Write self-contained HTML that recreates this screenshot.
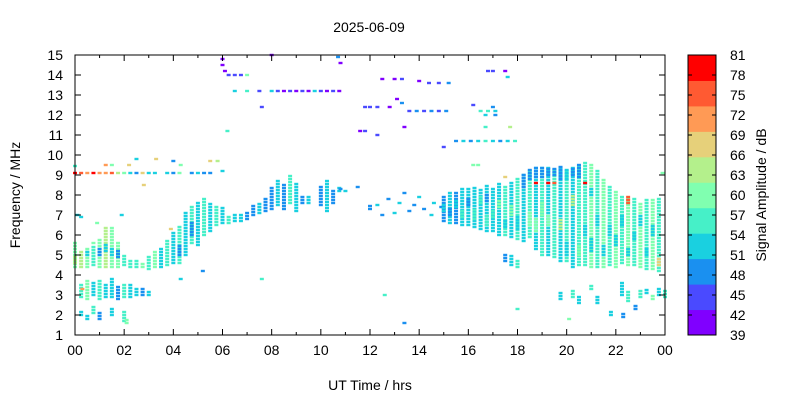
<!DOCTYPE html>
<html><head><meta charset="utf-8"><style>
body{margin:0;background:#fff;}
svg{display:block;font-family:"Liberation Sans",sans-serif;}
</style></head><body>
<svg id="c" width="800" height="400"></svg>
<script>
// data rows: [hour, fLow MHz, fHigh MHz, amplitude dB]
const morningLow=[[0,4.4,5.6,60],[0,4.6,5.0,64],[0.25,4.4,5.2,64],[0.25,6.9,7.0,52],[0.5,4.4,5.4,60],[0.5,5.0,5.2,52],[0.75,4.5,5.4,56],[0.75,5.6,5.7,60],[1,4.4,5.8,60],[1,5.0,5.4,48],[1.25,4.4,6.4,64],[1.25,5.2,5.6,52],[1.5,4.4,6.4,60],[1.5,5.0,5.4,52],[1.75,4.4,5.6,60],[1.75,4.9,5.3,48],[2,4.5,5.0,56],[2.25,4.4,4.7,56],
[0.25,2.9,3.6,56],[0.5,2.8,3.7,60],[0.75,3.0,3.7,52],[1,2.8,3.7,56],[1.25,2.9,3.5,52],[1.5,2.9,3.8,52],[1.75,2.8,3.5,48],[2,2.9,3.6,56],[2.25,2.9,3.5,52],[2.5,3.0,3.4,52],[2.75,3.0,3.4,48],[3,3.0,3.2,52],
[0.25,2.0,2.2,52],[0.5,1.8,2.0,52],[0.75,2.1,2.5,56],[1,1.8,2.1,48],[1.5,2.0,2.4,52],[2,1.7,2.2,56],[2.1,1.6,1.8,60],[0.3,3.3,3.3,71],[0.1,7.0,7.0,52],[0.9,6.6,6.6,60],[1.9,7.0,7.0,52]];
const morningRise=[[2.5,4.4,4.8,56],[2.75,4.4,4.6,60],[3,4.3,4.9,56],[3.25,4.4,5.2,60],[3.5,4.4,5.4,52],[3.75,4.5,5.8,56],[4,4.6,6.2,52],[4.25,4.6,6.5,56],[4.25,5.0,5.5,48],[4.5,5.0,7.2,52],[4.75,5.6,7.5,56],[4.75,6.0,6.6,48],[5,5.5,7.7,52],[5.25,6.0,7.9,56],[5.5,6.2,7.6,52],[5.75,6.5,7.5,56],[6,6.6,7.4,52],[6.25,6.6,7.0,56],[6.5,6.7,7.0,52],[6.75,6.7,7.0,52],[7,6.8,7.2,48],[7.25,7.0,7.5,48],[7.5,7.1,7.6,52],[7.75,7.2,7.8,48],[8,7.3,8.4,48],[8.25,7.5,8.7,52],[8.5,7.3,8.5,48],[8.75,7.6,9.0,56],[9,7.2,8.6,52],[9.25,7.6,8.0,48],[9.5,7.6,8.0,52],[10,7.5,8.4,48],[10.25,7.2,8.8,52],[10.5,7.6,8.2,48],[10.75,8.2,8.4,52],[11,8.2,8.3,52],[3.9,6.3,6.3,68],[5.2,4.2,4.2,48],[4.3,3.8,3.8,52]];
const line9MHz=[[0,9.1,9.2,79],[0.25,9.1,9.2,75],[0.5,9.1,9.2,71],[0.75,9.1,9.2,79],[1,9.1,9.2,71],[1.25,9.1,9.2,71],[1.5,9.1,9.2,75],[1.75,9.1,9.2,64],[2,9.1,9.2,60],[2.25,9.1,9.2,52],[2.5,9.1,9.2,48],[2.75,9.1,9.2,68],[3,9.1,9.2,52],[3.25,9.1,9.2,52],[3.75,9.1,9.2,52],[4,9.1,9.2,48],[4.25,9.1,9.2,60],[4.75,9.1,9.2,48],[5,9.1,9.2,52],[5.25,9.1,9.2,48],[5.5,9.1,9.2,48],[6,9.2,9.3,52],[0,9.45,9.5,56],[1.25,9.5,9.6,71],[1.5,9.5,9.5,60],[2.2,9.5,9.5,68],[2.5,9.8,9.8,52],[3.3,9.8,9.8,68],[4,9.7,9.7,48],[4.3,9.5,9.5,60],[5.5,9.7,9.7,68],[5.8,9.7,9.7,64],[2.8,8.5,8.5,68]];
const highEcho=[[6,14.8,14.9,41],[6,14.5,14.6,41],[6.1,14.2,14.3,41],[6.25,14.0,14.05,45],[6.5,14.0,14.0,45],[6.75,14.0,14.0,45],[7,14.0,14.0,60],[6.2,11.2,11.2,56],[7.6,12.4,12.4,45],[8,15.0,15.0,41],
[6.5,13.2,13.2,52],[7,13.2,13.2,56],[7.5,13.2,13.2,45],[8,13.2,13.2,52],[8.25,13.2,13.2,45],[8.5,13.2,13.2,41],[8.75,13.2,13.2,45],[9,13.2,13.2,41],[9.25,13.2,13.2,45],[9.5,13.2,13.2,41],[9.75,13.2,13.2,52],[10,13.2,13.2,45],[10.25,13.2,13.2,41],[10.5,13.2,13.2,45],[10.75,13.2,13.2,41],[10.8,14.6,14.6,41],[10.7,14.9,14.9,48],
[12.5,13.8,13.8,41],[13,13.8,13.8,41],[13.3,13.8,13.8,45],[14,13.7,13.7,41],[14.4,13.6,13.6,45],[14.8,13.6,13.6,45],[15.2,13.6,13.6,48],
[11.8,12.4,12.4,45],[12,12.4,12.4,45],[12.3,12.4,12.4,45],[12.8,12.4,12.4,41],[13.3,12.6,12.6,48],[13.1,12.8,12.8,41],
[13.6,12.2,12.2,45],[13.9,12.2,12.2,48],[14.2,12.2,12.2,45],[14.5,12.2,12.2,48],[14.8,12.2,12.2,45],[15.1,12.2,12.2,48],
[11.6,11.2,11.2,41],[11.8,11.2,11.2,45],[12.3,11.0,11.0,45],[13.4,11.4,11.4,41],
[15.5,10.7,10.7,48],[15.8,10.7,10.7,52],[16.1,10.7,10.7,48],[16.4,10.7,10.7,52],[16.7,10.7,10.7,56],[17,10.7,10.7,52],[17.3,10.7,10.7,48],[17.6,10.7,10.7,52],[17.9,10.7,10.7,56],[15,10.4,10.5,45],
[16.5,12.2,12.2,56],[16.8,12.2,12.2,56],[17.1,12.2,12.2,52],[16.7,12.0,12.0,52],[17.1,12.0,12.0,48],[16.7,11.4,11.4,56],[17.7,11.4,11.4,64],[16.2,12.5,12.5,45],[17,12.4,12.4,48],
[16.8,14.2,14.2,45],[17,14.2,14.2,45],[17.5,14.2,14.2,41],[17.6,13.9,13.9,52]];
const middayScatter=[[11.5,8.4,8.4,48],[12,7.3,7.5,48],[12.3,7.5,7.6,52],[12.5,7.0,7.0,48],[12.75,7.8,7.8,48],[13,7.1,7.2,52],[13.2,7.6,7.6,52],[13.4,8.1,8.1,48],[13.6,7.2,7.2,48],[13.8,7.5,7.5,48],[14,7.9,7.9,52],[14.2,7.3,7.3,48],[14.5,7.0,7.0,52],[14.6,7.6,7.6,52],[14.9,7.4,7.5,48],[10.8,8.3,8.3,48],[12.6,3.0,3.0,56],[13.4,1.6,1.6,48],[7.6,3.8,3.8,56],[18,2.3,2.3,56],[20.1,1.8,1.8,60]];
const eveningBand=[[15,6.7,8.0,48],[15,7.2,7.6,52],[15.25,6.6,8.2,52],[15.25,7.0,7.4,48],[15.5,6.6,8.2,48],[15.5,7.4,7.8,52],[15.75,6.5,8.3,52],[15.75,6.9,7.2,56],[16,6.5,8.4,52],[16,7.5,7.9,48],[16.25,6.4,8.4,52],[16.25,6.8,7.3,56],[16.5,6.3,8.3,52],[16.5,7.6,8.0,56],[16.75,6.2,8.5,52],[16.75,6.5,7.0,56],[16.75,7.7,8.0,48],[17,6.2,8.3,52],[17,6.9,7.3,56],[17.25,6.0,8.6,52],[17.25,7.4,7.8,60],[17.5,6.0,8.5,56],[17.5,6.4,6.8,52],[17.75,5.9,8.6,52],[17.75,7.0,7.5,60],[18,5.8,8.8,56],[18,6.3,7.0,52],[18.25,5.7,9.0,52],[18.25,8.4,9.0,48],[18.5,5.9,9.3,56],[18.5,8.8,9.3,48],[18.5,6.5,7.2,60],[18.75,5.3,9.4,52],[18.75,8.9,9.4,48],[18.75,8.6,8.7,79],[18.75,6.2,6.8,60],[19,5.0,9.4,56],[19,8.9,9.4,48],[19,7.0,7.6,60],[19.25,5.0,9.4,52],[19.25,9.0,9.4,48],[19.25,8.6,8.7,79],[19.25,6.5,7.0,60],[19.5,4.9,9.3,56],[19.5,9.0,9.3,48],[19.5,8.6,8.6,75],[19.75,4.7,9.4,52],[19.75,8.8,9.4,48],[19.75,6.3,6.8,64],[20,4.7,9.3,56],[20,8.8,9.3,52],[20,5.0,5.6,52],[20.25,4.4,9.4,52],[20.25,9.0,9.4,48],[20.25,7.5,8.0,64],[20.5,4.5,9.5,56],[20.5,8.9,9.5,48],[20.5,5.0,5.5,60],[20.75,4.5,9.6,56],[20.75,6.0,6.5,52],[20.75,8.6,8.7,79],[21,4.4,9.6,60],[21,5.2,5.8,52],[21,8.0,8.4,52],[21.25,4.4,9.3,56],[21.25,6.5,7.0,52],[21.5,4.4,8.8,60],[21.5,5.0,5.5,52],[21.75,4.5,8.5,56],[21.75,6.0,6.5,52],[22,4.4,8.2,60],[22,5.5,6.0,52],[22.25,4.6,8.0,56],[22.25,6.5,7.0,52],[22.5,4.5,7.9,60],[22.5,7.6,7.9,75],[22.5,5.0,5.4,52],[22.75,4.5,7.8,56],[22.75,5.8,6.2,52],[23,4.4,7.6,60],[23,6.5,7.0,52],[23.25,4.3,7.8,56],[23.25,5.0,5.4,52],[23.5,4.3,7.8,60],[23.5,6.0,6.5,52],[23.75,4.2,7.9,56],[23.75,4.5,4.8,68],[23.9,9.1,9.1,60],[16.2,9.5,9.5,60],[16.4,9.5,9.5,60],[17.5,8.9,8.9,68]];
const eveningLow=[[19.75,2.8,3.2,52],[20.25,2.9,3.3,56],[20.5,2.6,2.9,52],[21,3.3,3.5,56],[21.25,2.6,3.0,52],[22.25,3.0,3.7,52],[22.5,2.7,3.2,56],[22.8,2.3,2.5,48],[23,2.9,3.3,56],[23.25,3.1,3.3,52],[23.5,2.8,3.0,60],[23.75,3.0,3.4,52],[24,2.9,3.3,56],[21.8,2.0,2.2,52],[22.3,1.9,2.1,48],[17.5,4.7,5.0,48],[17.75,4.5,5.0,52],[18,4.4,4.8,56]];
const xTicks=["00","02","04","06","08","10","12","14","16","18","20","22","00"];
const yTicks=[1,2,3,4,5,6,7,8,9,10,11,12,13,14,15];
const cbTicks=[39,42,45,48,51,54,57,60,63,66,69,72,75,78,81];
const cbColors=["#8000ff","#4a4aff","#1a90f0","#1ad0e0","#46f0c8","#80ffb0","#b4f08c","#e6d07a","#ff9a55","#ff5a32","#ff0000"];

const NS="http://www.w3.org/2000/svg",svg=document.getElementById('c');
const L=75,R=665,T=55,B=335;
const X=h=>L+(h/24)*(R-L), Y=f=>B-(f-1)/14*(B-T);
function mk(t,a,p){const e=document.createElementNS(NS,t);for(const k in a)e.setAttribute(k,a[k]);(p||svg).appendChild(e);return e;}
function col(a){let i=Math.floor((a-39)/42*11);i=Math.max(0,Math.min(10,i));return cbColors[i];}
const g=mk('g',{});


[morningLow,morningRise,line9MHz,highEcho,middayScatter,eveningBand,eveningLow].forEach(arr=>{
  arr.forEach(r=>{
    for(let f=r[1];f<=r[2]+1e-6;f+=0.15){
      const c=mk('rect',{x:X(r[0])-2,y:Y(f)-1.2,width:4,height:2.4,fill:col(r[3])},g);
      
      
    }
  });
});
const fr=mk('rect',{x:L,y:T,width:R-L,height:B-T,fill:'none',stroke:'#000','stroke-width':1});


for(let h=0;h<=24;h++){
  const len=h%2?3:6;
  mk('line',{x1:X(h),x2:X(h),y1:B,y2:B-len,stroke:'#000'});
  mk('line',{x1:X(h),x2:X(h),y1:T,y2:T+len,stroke:'#000'});
}
xTicks.forEach((s,i)=>{
  const t=mk('text',{x:X(i*2),y:B+20,'text-anchor':'middle','font-size':14});t.textContent=s;
  
  
});
yTicks.forEach(v=>{
  mk('line',{x1:L,x2:L+6,y1:Y(v),y2:Y(v),stroke:'#000'});
  mk('line',{x1:R,x2:R-6,y1:Y(v),y2:Y(v),stroke:'#000'});
  const t=mk('text',{x:L-12,y:Y(v)+5,'text-anchor':'end','font-size':14});t.textContent=v;
  
  
});
const CL=688,CR=716;
cbColors.forEach((c,i)=>{
  const h=(B-T)/11;
  const r=mk('rect',{x:CL,y:B-(i+1)*h,width:CR-CL,height:h+0.5,fill:c});
  
  
});
mk('rect',{x:CL,y:T,width:CR-CL,height:B-T,fill:'none',stroke:'#000'});
cbTicks.forEach(v=>{
  const y=B-(v-39)/42*(B-T);
  mk('line',{x1:CL,x2:CL+4,y1:y,y2:y,stroke:'#000'});
  mk('line',{x1:CR,x2:CR-4,y1:y,y2:y,stroke:'#000'});
  const t=mk('text',{x:730,y:y+5,'font-size':14});t.textContent=v;
  
  
});
function label(txt,x,y,rot,name){const t=mk('text',{x:x,y:y,'text-anchor':'middle','font-size':14,transform:rot?`rotate(-90 ${x} ${y})`:''});t.textContent=txt;
  
  }
label('2025-06-09',369,32,false,'chart-title');
label('UT Time / hrs',370,390,false,'x-axis-title');
label('Frequency / MHz',20,195,true,'y-axis-title');
label('Signal Amplitude / dB',766,195,true,'colorbar-title');
</script>
</body></html>
